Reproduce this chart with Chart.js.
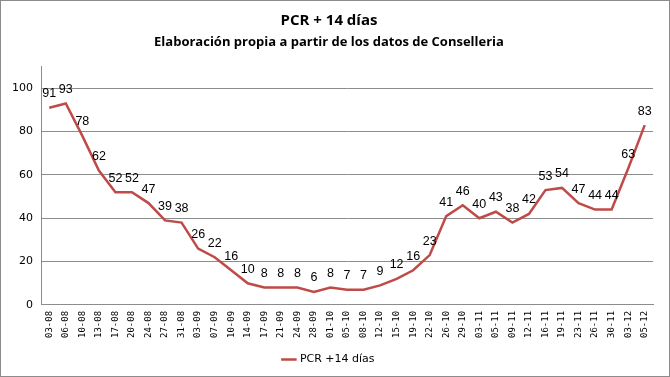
<!DOCTYPE html>
<html>
<head>
<meta charset="utf-8">
<script src="https://cdn.jsdelivr.net/npm/chart.js@4/dist/chart.umd.min.js"></script>
<style>
  html, body { margin: 0; padding: 0; background: #fff; }
  #wrap { position: relative; width: 668px; height: 375px; border: 1px solid #8c8c8c; }
</style>
</head>
<body>
<div id="wrap"><canvas id="chart"></canvas></div>
<script>
// ---------- DATA ----------
const fechas = [
  "03-08", "06-08", "10-08", "13-08", "17-08", "20-08", "24-08", "27-08", "31-08",
  "03-09", "07-09", "10-09", "14-09", "17-09", "21-09", "24-09", "28-09",
  "01-10", "05-10", "08-10", "12-10", "15-10", "19-10", "22-10", "26-10", "29-10",
  "03-11", "05-11", "09-11", "12-11", "16-11", "19-11", "23-11", "26-11", "30-11",
  "03-12", "05-12"
];
const pcr14 = [
  91, 93, 78, 62, 52, 52, 47, 39, 38,
  26, 22, 16, 10, 8, 8, 8, 6,
  8, 7, 7, 9, 12, 16, 23, 41, 46,
  40, 43, 38, 42, 53, 54, 47, 44, 44,
  63, 83
];
const yTicks = [0, 20, 40, 60, 80, 100];

const RED = "#BE4B48";

// ---------- DATA LABELS ----------
const valueLabels = {
  id: "valueLabels",
  afterDatasetsDraw(chart) {
    const { ctx } = chart;
    const meta = chart.getDatasetMeta(0);
    ctx.save();
    ctx.font = "12.5px 'Liberation Sans'";
    ctx.fillStyle = "#000";
    ctx.textAlign = "center";
    ctx.textBaseline = "middle";
    meta.data.forEach((pt, i) => {
      ctx.fillText(String(pcr14[i]), pt.x, pt.y - 14);
    });
    ctx.restore();
  }
};

new Chart(document.getElementById("chart"), {
  type: "line",
  data: {
    labels: fechas,
    datasets: [{
      label: "PCR +14 días",
      data: pcr14,
      borderColor: RED,
      backgroundColor: RED,
      borderWidth: 2.5,
      pointRadius: 0,
      tension: 0
    }]
  },
  options: {
    animation: false,
    responsive: true,
    maintainAspectRatio: false,
    layout: { padding: { left: 4, right: 16, top: 0, bottom: 1 } },
    scales: {
      x: {
        offset: true,
        grid: { display: false, drawTicks: false },
        border: { color: "#8c8c8c" },
        ticks: {
          autoSkip: false,
          maxRotation: 90,
          minRotation: 90,
          padding: 6,
          color: "#000",
          font: { family: "'DejaVu Sans Mono'", size: 9 }
        }
      },
      y: {
        min: 0,
        max: 110,
        afterBuildTicks(axis) {
          axis.ticks = yTicks.map(v => ({ value: v }));
        },
        afterFit(axis) { axis.width = 36; },
        grid: { color: "#8c8c8c", drawTicks: false },
        border: { color: "#8c8c8c" },
        ticks: {
          padding: 8,
          color: "#000",
          font: { family: "'DejaVu Sans'", size: 11 }
        }
      }
    },
    plugins: {
      title: {
        display: true,
        text: "PCR + 14 días",
        color: "#000",
        font: { family: "'Open Sans'", size: 15, weight: "bold" },
        padding: { top: 11, bottom: 4 }
      },
      subtitle: {
        display: true,
        text: "Elaboración propia a partir de los datos de Conselleria",
        color: "#000",
        font: { family: "'Open Sans'", size: 13, weight: "bold" },
        padding: { top: 0, bottom: 17 }
      },
      legend: {
        position: "bottom",
        labels: {
          usePointStyle: true,
          pointStyle: "line",
          boxWidth: 28,
          color: "#000",
          font: { family: "'DejaVu Sans'", size: 11 }
        }
      },
      tooltip: { enabled: false }
    }
  },
  plugins: [valueLabels]
});
</script>
</body>
</html>
